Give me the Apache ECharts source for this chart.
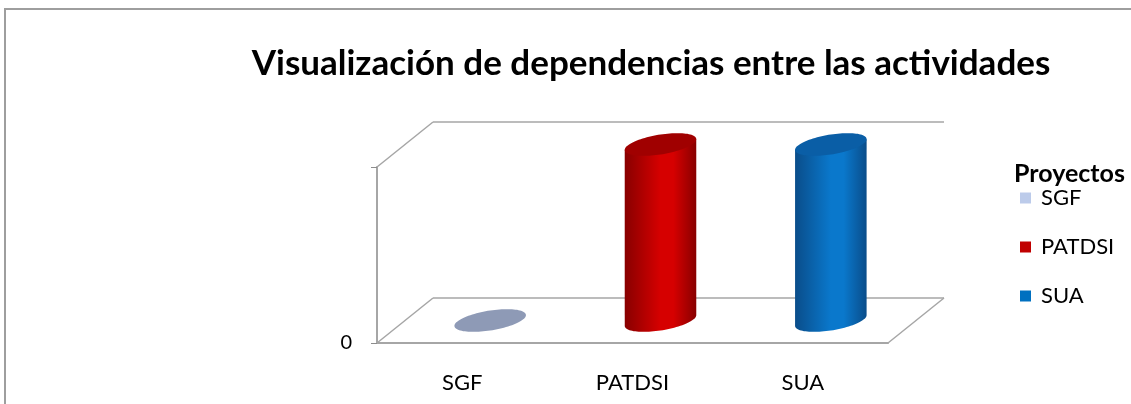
<!DOCTYPE html>
<html>
<head>
<meta charset="utf-8">
<script src="https://cdn.jsdelivr.net/npm/echarts@6/dist/echarts.min.js"></script>
<style>
  html, body { margin: 0; padding: 0; background: #fff; }
  #chart { width: 1131px; height: 404px; }
</style>
</head>
<body>
<div id="chart"></div>
<script>
// datos del gráfico
const categories = ['SGF', 'PATDSI', 'SUA'];
const values = [0, 1, 1];
const yMin = 0;
const yMax = 1;
const yInterval = 1;

// colores por proyecto
const legendColors = ['#bccbea', '#c00000', '#0070c0'];
const sideDark = ['#7f8aa8', '#880000', '#0a4d8a'];
const sideLight = ['#9aa6c2', '#d60000', '#0a78cc'];
const topColors = ['#8e9ab6', '#a00000', '#0a5ea6'];

// profundidad 3D (px) e inclinación de las elipses
const DEPTH_X = 56;
const DEPTH_Y = -45;
const SHEAR = 0.15;
const FONT = 'Lato, "Noto Sans", sans-serif';

const chart = echarts.init(document.getElementById('chart'));

function frameItem(params, api) {
  const cs = params.coordSys;
  const l = cs.x, r = cs.x + cs.width, t = cs.y, b = cs.y + cs.height;
  const st = { stroke: '#a6a6a6', lineWidth: 1.5 };
  const seg = (x1, y1, x2, y2) => ({ type: 'line', shape: { x1, y1, x2, y2 }, style: st, silent: true });
  return {
    type: 'group',
    children: [
      seg(l, t, l + DEPTH_X, t + DEPTH_Y),
      seg(l + DEPTH_X, t + DEPTH_Y, r + DEPTH_X, t + DEPTH_Y),
      seg(l, b, l + DEPTH_X, b + DEPTH_Y),
      seg(l + DEPTH_X, b + DEPTH_Y, r + DEPTH_X, b + DEPTH_Y),
      seg(r, b, r + DEPTH_X, b + DEPTH_Y)
    ]
  };
}

// punto de una elipse inclinada (cizalla vertical)
function ellPt(cx, cy, rx, ry, a) {
  const dx = rx * Math.cos(a);
  return [cx + dx, cy + ry * Math.sin(a) - SHEAR * dx];
}

function cylinderItem(params, api) {
  const idx = api.value(0);
  const base = api.coord([idx, 0]);
  const top = api.coord([idx, api.value(1)]);
  const band = api.size([1, 0])[0];
  const rx = band * 0.21;
  const ry = 10;
  const cx = base[0] + DEPTH_X / 2;
  const by = base[1] + DEPTH_Y / 2;
  const ty = top[1] + DEPTH_Y / 2;
  const grad = new echarts.graphic.LinearGradient(0, 0, 1, 0, [
    { offset: 0, color: sideDark[idx] },
    { offset: 0.5, color: sideLight[idx] },
    { offset: 0.68, color: sideLight[idx] },
    { offset: 1, color: sideDark[idx] }
  ]);
  const N = 48;
  const children = [];
  if (by - ty > 0.5) {
    const body = [];
    // lado izquierdo arriba -> abajo, medio inferior de la base, lado derecho
    body.push(ellPt(cx, ty, rx, ry, Math.PI));
    for (let k = 0; k <= N; k++) {
      body.push(ellPt(cx, by, rx, ry, Math.PI - Math.PI * k / N));
    }
    body.push(ellPt(cx, ty, rx, ry, 0));
    children.push({ type: 'polygon', shape: { points: body }, style: { fill: grad } });
  }
  const cap = [];
  for (let k = 0; k < N * 2; k++) {
    cap.push(ellPt(cx, ty, rx, ry, Math.PI * k / N));
  }
  children.push({ type: 'polygon', shape: { points: cap }, style: { fill: topColors[idx] } });
  return { type: 'group', children: children };
}

const option = {
  animation: false,
  title: [
    {
      text: 'Visualización de dependencias entre las actividades',
      left: 646,
      top: 41,
      textAlign: 'center',
      textStyle: { fontFamily: FONT, fontSize: 35, fontWeight: 'bold', color: '#000' }
    },
    {
      text: 'Proyectos',
      left: 1009,
      top: 156,
      textStyle: { fontFamily: FONT, fontSize: 25, fontWeight: 'bold', color: '#000' }
    }
  ],
  legend: {
    orient: 'vertical',
    left: 1015,
    top: 182,
    itemWidth: 11,
    itemHeight: 11,
    itemGap: 27,
    icon: 'rect',
    textStyle: { fontFamily: FONT, fontSize: 22, color: '#000', padding: [0, 0, 0, 5] },
    data: categories.map((c, i) => ({ name: c, itemStyle: { color: legendColors[i] } }))
  },
  graphic: [{
    type: 'rect',
    shape: { x: 5, y: 9, width: 1140, height: 420 },
    style: { fill: 'none', stroke: '#9e9e9e', lineWidth: 2 },
    silent: true
  }],
  grid: { left: 377, right: 243, top: 167, bottom: 61 },
  xAxis: {
    type: 'category',
    data: categories,
    axisLine: { lineStyle: { color: '#a6a6a6', width: 2 } },
    axisTick: { length: 6, lineStyle: { color: '#8c8c8c' } },
    axisLabel: { margin: 29, fontFamily: FONT, fontSize: 22, color: '#000' }
  },
  yAxis: {
    type: 'value',
    min: yMin,
    max: yMax,
    interval: yInterval,
    axisLine: { show: true, lineStyle: { color: '#a6a6a6', width: 2 } },
    axisTick: { show: true, length: 6, lineStyle: { color: '#8c8c8c' } },
    axisLabel: {
      margin: 25,
      fontFamily: FONT,
      fontSize: 20,
      color: '#000',
      formatter: v => (v === 0 ? '0' : '')
    },
    splitLine: { show: false }
  },
  series: [
    {
      name: 'marco',
      type: 'custom',
      renderItem: frameItem,
      data: [[0, 0]],
      silent: true,
      z: 1
    }
  ].concat(categories.map((c, i) => ({
    name: c,
    type: 'custom',
    renderItem: cylinderItem,
    itemStyle: { color: legendColors[i] },
    data: [[i, values[i]]],
    z: 3
  })))
};

chart.setOption(option);
window.addEventListener('resize', () => chart.resize());
</script>
</body>
</html>
